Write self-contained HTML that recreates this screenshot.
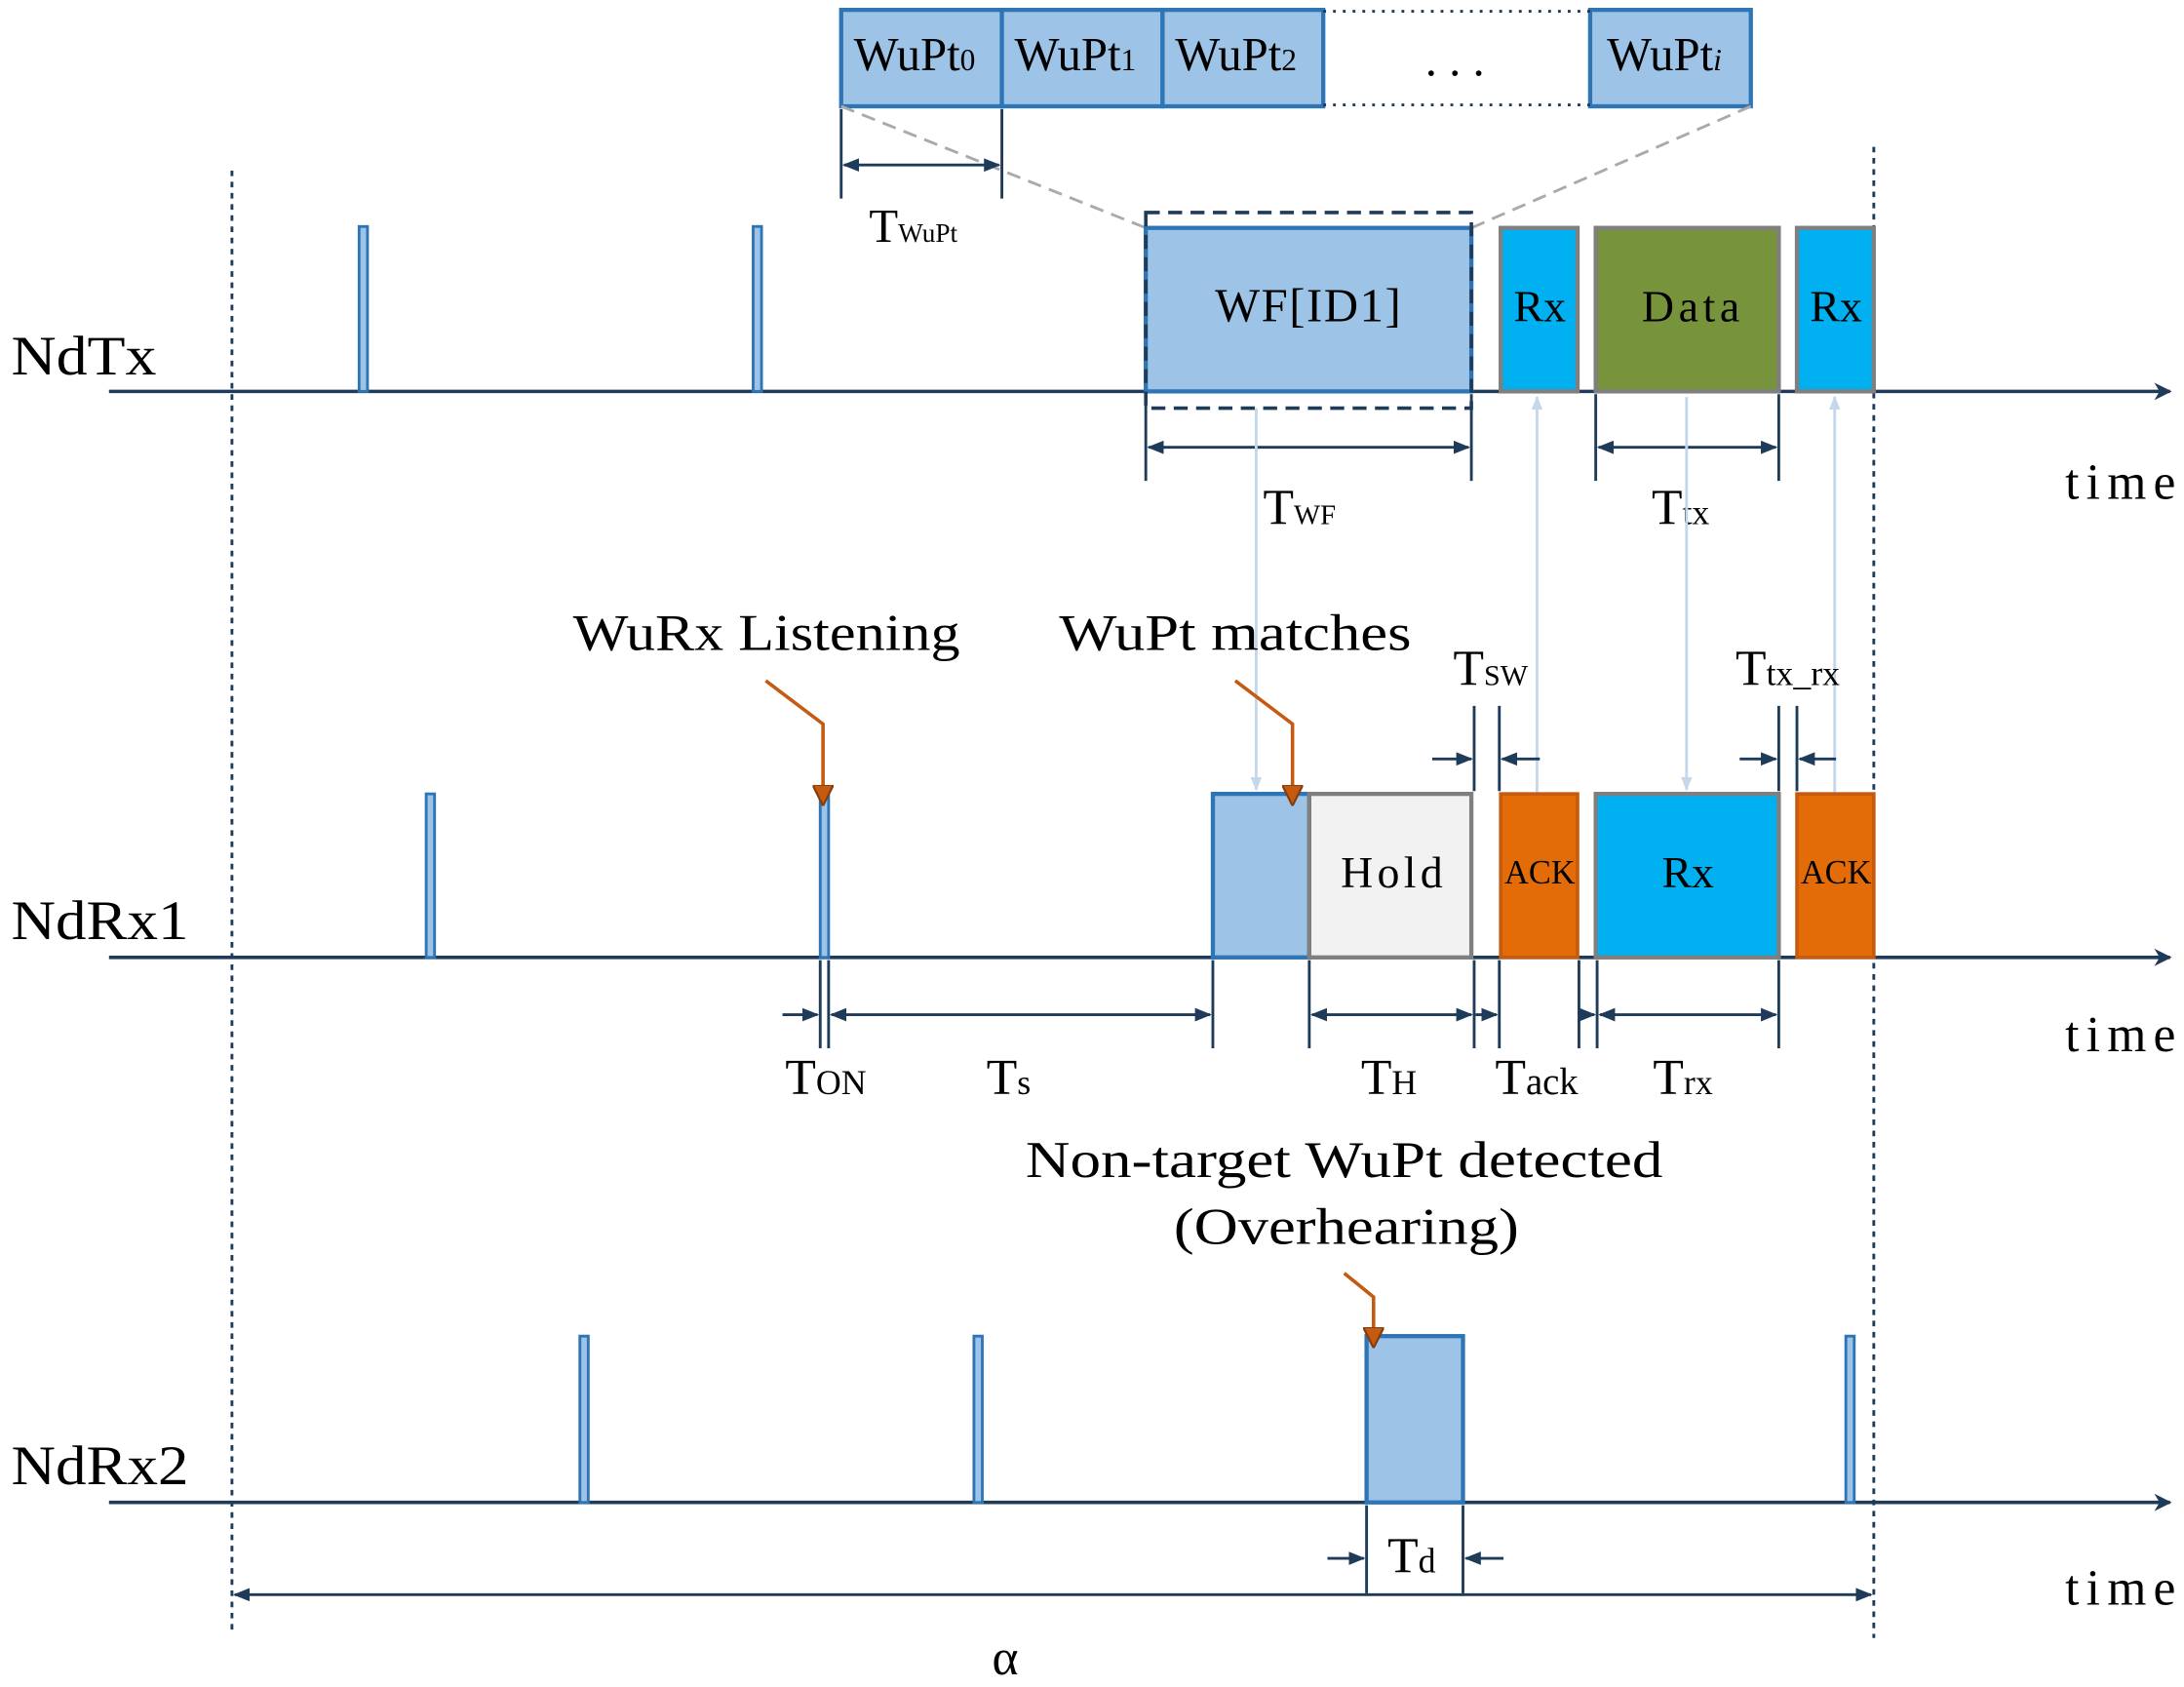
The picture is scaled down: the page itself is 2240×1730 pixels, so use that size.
<!DOCTYPE html>
<html><head><meta charset="utf-8"><style>html,body{margin:0;padding:0;background:#fff}svg{display:block}</style></head><body>
<svg width="2240" height="1730" viewBox="0 0 1563 1207" xmlns="http://www.w3.org/2000/svg" font-family="Liberation Serif, serif">
<defs>
<marker id="a" viewBox="0 0 10 10" refX="9" refY="5" markerWidth="6" markerHeight="6" orient="auto-start-reverse"><path d="M0,1 L10,5 L0,9 z" fill="#1f3b5a"/></marker>
<marker id="big" viewBox="0 0 10 10" refX="9" refY="5" markerWidth="5" markerHeight="5" orient="auto"><path d="M0,0 L10,5 L0,10 L3,5 z" fill="#1f3b5a"/></marker>
<marker id="g" viewBox="0 0 10 10" refX="9" refY="5" markerWidth="5" markerHeight="5" orient="auto"><path d="M0,1 L10,5 L0,9 z" fill="#c5d7ea"/></marker>
<marker id="o" viewBox="0 0 10 10" refX="9" refY="5" markerWidth="6" markerHeight="6" orient="auto"><path d="M0,0 L10,5 L0,10 z" fill="#c55a11" stroke="#843c0c"/></marker>
</defs>
<g stroke="#1f3b5a" stroke-width="2.5">
<line x1="78" y1="280" x2="1553" y2="280" marker-end="url(#big)"/>
<line x1="78" y1="685" x2="1553" y2="685" marker-end="url(#big)"/>
<line x1="78" y1="1075" x2="1553" y2="1075" marker-end="url(#big)"/>
</g>
<g stroke="#1f3b5a" stroke-width="2" stroke-dasharray="4,4">
<line x1="166" y1="122" x2="166" y2="1168"/><line x1="1341" y1="105" x2="1341" y2="1172"/>
</g>
<g font-size="40" fill="#000">
<text x="8" y="268" textLength="104" lengthAdjust="spacingAndGlyphs">NdTx</text><text x="8" y="672" textLength="127" lengthAdjust="spacingAndGlyphs">NdRx1</text><text x="8" y="1062" textLength="127" lengthAdjust="spacingAndGlyphs">NdRx2</text>
<g font-size="36"><text x="1478" y="357" textLength="79">time</text><text x="1478" y="752" textLength="79">time</text><text x="1478" y="1148" textLength="79">time</text></g>
</g>
<!-- top WuPt -->
<g stroke="#2e75b6" stroke-width="3" fill="#9dc3e6">
<rect x="602" y="7" width="115" height="69"/><rect x="717" y="7" width="115" height="69"/><rect x="832" y="7" width="115" height="69"/><rect x="1138" y="7" width="115" height="69"/>
</g>
<g stroke="#1f3b5a" stroke-width="2" stroke-dasharray="2,5"><line x1="947" y1="8" x2="1138" y2="8"/><line x1="947" y1="75" x2="1138" y2="75"/></g>
<g font-size="34"><text x="611" y="50">WuPt<tspan font-size="22">0</tspan></text><text x="726" y="50">WuPt<tspan font-size="22">1</tspan></text><text x="841" y="50">WuPt<tspan font-size="22">2</tspan></text><text x="1150" y="50">WuPt<tspan font-size="22" font-style="italic">i</tspan></text><text x="1020" y="54">. . .</text></g>
<g stroke="#aaa" stroke-width="2" stroke-dasharray="10,6"><line x1="602" y1="76" x2="820" y2="163"/><line x1="1253" y1="76" x2="1053" y2="163"/></g>
<g stroke="#1f3b5a" stroke-width="2"><line x1="602" y1="78" x2="602" y2="142"/><line x1="717" y1="78" x2="717" y2="142"/><line x1="604" y1="118" x2="715" y2="118" marker-start="url(#a)" marker-end="url(#a)"/></g>
<text x="622" y="173" font-size="34">T<tspan font-size="19">WuPt</tspan></text>
<!-- pulses -->
<g stroke="#2e75b6" stroke-width="2" fill="#9dc3e6">
<rect x="257" y="162" width="6" height="118"/><rect x="539" y="162" width="6" height="118"/>
<rect x="305" y="568" width="6" height="117"/><rect x="587" y="568" width="6" height="117"/>
<rect x="415" y="956" width="6" height="119"/><rect x="697" y="956" width="6" height="119"/><rect x="1321" y="956" width="6" height="119"/>
</g>
<rect x="820" y="163" width="233" height="117" fill="#9dc3e6" stroke="#2e75b6" stroke-width="3"/>
<rect x="820" y="152" width="233" height="140" fill="none" stroke="#1f3b5a" stroke-width="2.5" stroke-dasharray="10,6"/>
<text x="936" y="230" font-size="34" text-anchor="middle" textLength="133">WF[ID1]</text>
<g stroke="#7f7f7f" stroke-width="3">
<rect x="1074" y="163" width="55" height="117" fill="#00b0f0"/><rect x="1142" y="163" width="131" height="117" fill="#77933c"/><rect x="1286" y="163" width="55" height="117" fill="#00b0f0"/>
</g>
<g font-size="32" text-anchor="middle"><text x="1102" y="230">Rx</text><text x="1210" y="230" textLength="70">Data</text><text x="1314" y="230">Rx</text></g>
<g stroke="#1f3b5a" stroke-width="2">
<line x1="820" y1="282" x2="820" y2="344"/><line x1="1053" y1="282" x2="1053" y2="344"/>
<line x1="822" y1="320" x2="1051" y2="320" marker-start="url(#a)" marker-end="url(#a)"/>
<line x1="1142" y1="282" x2="1142" y2="344"/><line x1="1273" y1="282" x2="1273" y2="344"/>
<line x1="1144" y1="320" x2="1271" y2="320" marker-start="url(#a)" marker-end="url(#a)"/>
</g>
<text x="904" y="375" font-size="36">T<tspan font-size="20">WF</tspan></text>
<text x="1182" y="375" font-size="36">T<tspan font-size="25">tx</tspan></text>
<g stroke="#c5d7ea" stroke-width="2">
<line x1="899" y1="292" x2="899" y2="565" marker-end="url(#g)"/>
<line x1="1100" y1="568" x2="1100" y2="284" marker-end="url(#g)"/>
<line x1="1207" y1="284" x2="1207" y2="565" marker-end="url(#g)"/>
<line x1="1313" y1="568" x2="1313" y2="284" marker-end="url(#g)"/>
</g>
<rect x="868" y="568" width="69" height="117" fill="#9dc3e6" stroke="#2e75b6" stroke-width="3"/>
<g stroke="#7f7f7f" stroke-width="3">
<rect x="937" y="568" width="116" height="117" fill="#f2f2f2"/>
<rect x="1142" y="568" width="131" height="117" fill="#00b0f0"/>
</g>
<g stroke="#c55a11" stroke-width="2.5" fill="#e36c09"><rect x="1074" y="568" width="55" height="117"/><rect x="1286" y="568" width="55" height="117"/></g>
<g text-anchor="middle"><text x="996" y="635" font-size="32" textLength="73">Hold</text><text x="1208" y="635" font-size="32">Rx</text><text x="1102" y="632" font-size="24">ACK</text><text x="1314" y="632" font-size="24">ACK</text></g>
<!-- NdRx2 box -->
<rect x="978" y="956" width="69" height="119" fill="#9dc3e6" stroke="#2e75b6" stroke-width="3"/>
<g font-size="37"><text x="410" y="465" textLength="277" lengthAdjust="spacingAndGlyphs">WuRx Listening</text><text x="758" y="465" textLength="252" lengthAdjust="spacingAndGlyphs">WuPt matches</text>
<text x="734" y="842" textLength="456" lengthAdjust="spacingAndGlyphs">Non-target WuPt detected</text><text x="840" y="890" textLength="247" lengthAdjust="spacingAndGlyphs">(Overhearing)</text></g>
<g stroke="#c55a11" stroke-width="2.5" fill="none">
<polyline points="548,487 589,518 589,575" marker-end="url(#o)"/>
<polyline points="884,487 925,518 925,575" marker-end="url(#o)"/>
<polyline points="962,911 983,928 983,963" marker-end="url(#o)"/>
</g>
<g stroke="#1f3b5a" stroke-width="2">
<line x1="1055" y1="505" x2="1055" y2="566"/><line x1="1073" y1="505" x2="1073" y2="566"/>
<line x1="1025" y1="543" x2="1053" y2="543" marker-end="url(#a)"/><line x1="1102" y1="543" x2="1075" y2="543" marker-end="url(#a)"/>
<line x1="1273" y1="505" x2="1273" y2="566"/><line x1="1286" y1="505" x2="1286" y2="566"/>
<line x1="1245" y1="543" x2="1271" y2="543" marker-end="url(#a)"/><line x1="1314" y1="543" x2="1288" y2="543" marker-end="url(#a)"/>
</g>
<text x="1040" y="490" font-size="36">T<tspan font-size="21">SW</tspan></text>
<text x="1242" y="490" font-size="36">T<tspan font-size="25">tx_rx</tspan></text>
<g stroke="#1f3b5a" stroke-width="2">
<line x1="587" y1="687" x2="587" y2="750"/><line x1="593" y1="687" x2="593" y2="750"/><line x1="868" y1="687" x2="868" y2="750"/>
<line x1="560" y1="726" x2="585" y2="726" marker-end="url(#a)"/>
<line x1="595" y1="726" x2="866" y2="726" marker-start="url(#a)" marker-end="url(#a)"/>
<line x1="937" y1="687" x2="937" y2="750"/><line x1="1055" y1="687" x2="1055" y2="750"/><line x1="1073" y1="687" x2="1073" y2="750"/>
<line x1="939" y1="726" x2="1053" y2="726" marker-start="url(#a)" marker-end="url(#a)"/>
<line x1="1130" y1="687" x2="1130" y2="750"/><line x1="1143" y1="687" x2="1143" y2="750"/><line x1="1273" y1="687" x2="1273" y2="750"/>
<line x1="1056" y1="726" x2="1071" y2="726" marker-end="url(#a)"/>
<line x1="1131" y1="726" x2="1141" y2="726" marker-end="url(#a)"/>
<line x1="1145" y1="726" x2="1271" y2="726" marker-start="url(#a)" marker-end="url(#a)"/>
</g>
<g font-size="36"><text x="562" y="783">T<tspan font-size="25">ON</tspan></text><text x="706" y="783">T<tspan font-size="25">s</tspan></text><text x="974" y="783">T<tspan font-size="25">H</tspan></text><text x="1070" y="783">T<tspan font-size="27">ack</tspan></text><text x="1183" y="783">T<tspan font-size="25">rx</tspan></text></g>
<g stroke="#1f3b5a" stroke-width="2">
<line x1="978" y1="1077" x2="978" y2="1140"/><line x1="1047" y1="1077" x2="1047" y2="1140"/>
<line x1="950" y1="1115" x2="976" y2="1115" marker-end="url(#a)"/><line x1="1076" y1="1115" x2="1049" y2="1115" marker-end="url(#a)"/>
<line x1="168" y1="1141" x2="1339" y2="1141" marker-start="url(#a)" marker-end="url(#a)"/>
</g>
<text x="993" y="1125" font-size="36">T<tspan font-size="25">d</tspan></text>
<text x="710" y="1198" font-size="36">α</text>
</svg>
</body></html>
